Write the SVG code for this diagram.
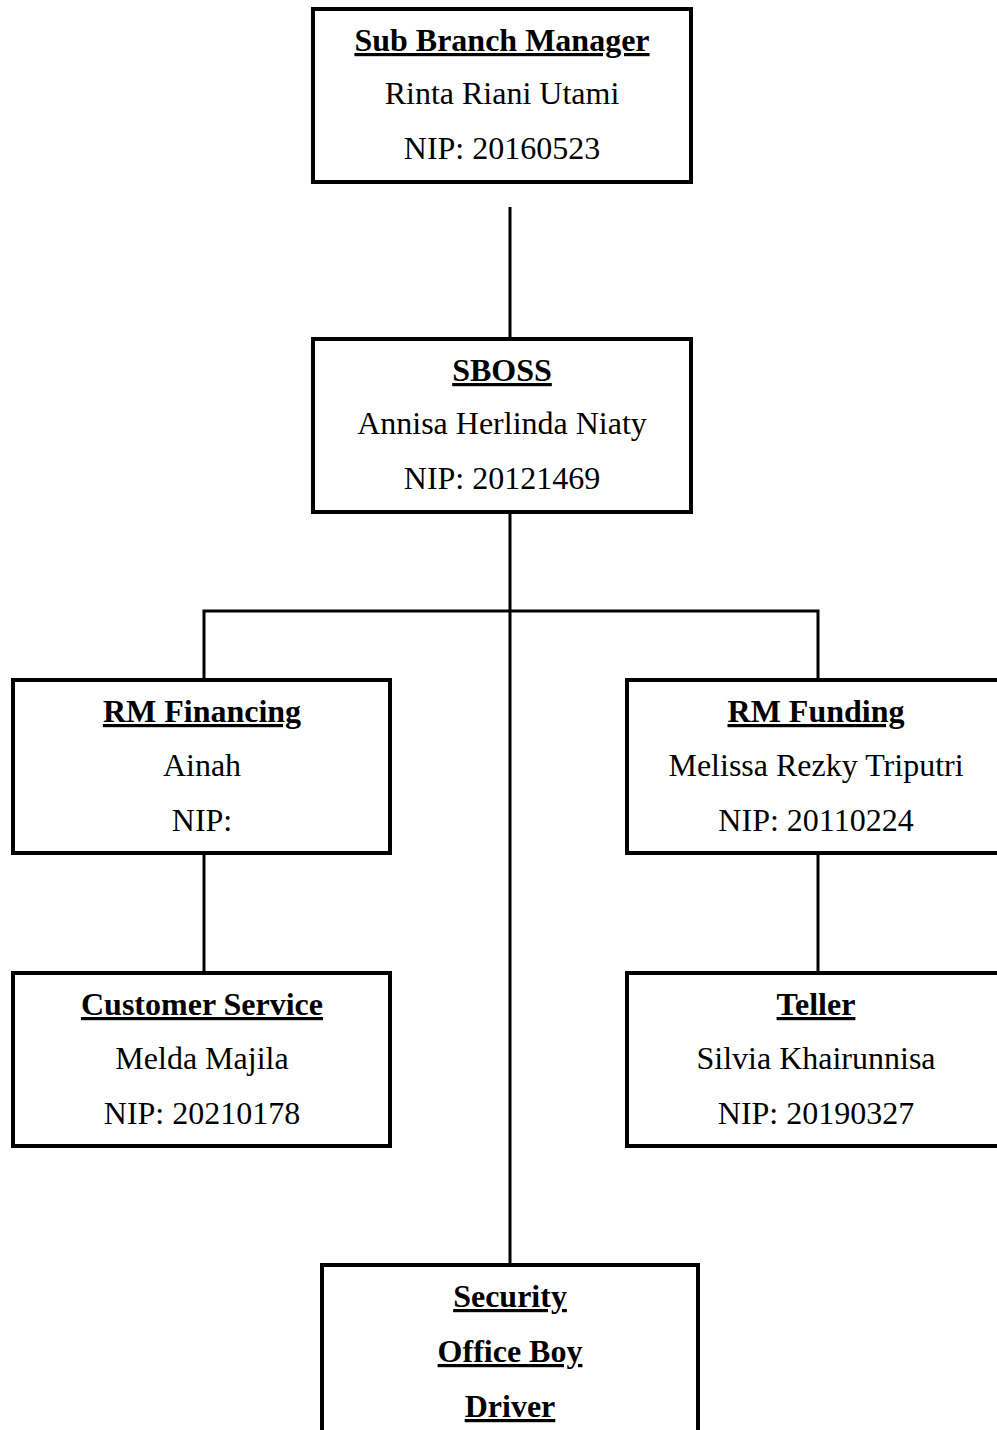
<svg xmlns="http://www.w3.org/2000/svg" width="997" height="1430" viewBox="0 0 997 1430">
  <style>
    .box { fill: #ffffff; stroke: #000000; stroke-width: 4; }
    .conn { fill: none; stroke: #000000; stroke-width: 3; }
    text { font-family: "Liberation Serif", "Times New Roman", serif; font-size: 32px; fill: #000000; text-anchor: middle; }
    .title { font-weight: bold; text-decoration: underline; text-decoration-thickness: 3px; text-underline-offset: 3px; }
  </style>
  <rect width="997" height="1430" fill="#ffffff"/>
  <g id="connectors">
    <line class="conn" x1="510" y1="207" x2="510" y2="339"/>
    <line class="conn" x1="510" y1="512" x2="510" y2="1265"/>
    <polyline class="conn" points="204,680 204,611 818,611 818,680"/>
    <line class="conn" x1="204" y1="853" x2="204" y2="973"/>
    <line class="conn" x1="818" y1="853" x2="818" y2="973"/>
  </g>
  <g id="sub-branch-manager">
    <rect class="box" x="313" y="9" width="378" height="173"/>
    <text class="title" x="502" y="51">Sub Branch Manager</text>
    <text x="502" y="104">Rinta Riani Utami</text>
    <text x="502" y="159">NIP: 20160523</text>
  </g>
  <g id="sboss">
    <rect class="box" x="313" y="339" width="378" height="173"/>
    <text class="title" x="502" y="381">SBOSS</text>
    <text x="502" y="434">Annisa Herlinda Niaty</text>
    <text x="502" y="489">NIP: 20121469</text>
  </g>
  <g id="rm-financing">
    <rect class="box" x="13" y="680" width="377" height="173"/>
    <text class="title" x="202" y="722">RM Financing</text>
    <text x="202" y="776">Ainah</text>
    <text x="202" y="831">NIP:</text>
  </g>
  <g id="rm-funding">
    <rect class="box" x="627" y="680" width="378" height="173"/>
    <text class="title" x="816" y="722">RM Funding</text>
    <text x="816" y="776">Melissa Rezky Triputri</text>
    <text x="816" y="831">NIP: 20110224</text>
  </g>
  <g id="customer-service">
    <rect class="box" x="13" y="973" width="377" height="173"/>
    <text class="title" x="202" y="1015">Customer Service</text>
    <text x="202" y="1069">Melda Majila</text>
    <text x="202" y="1124">NIP: 20210178</text>
  </g>
  <g id="teller">
    <rect class="box" x="627" y="973" width="378" height="173"/>
    <text class="title" x="816" y="1015">Teller</text>
    <text x="816" y="1069">Silvia Khairunnisa</text>
    <text x="816" y="1124">NIP: 20190327</text>
  </g>
  <g id="support-staff">
    <rect class="box" x="322" y="1265" width="376" height="190"/>
    <text class="title" x="510" y="1307">Security</text>
    <text class="title" x="510" y="1362">Office Boy</text>
    <text class="title" x="510" y="1417">Driver</text>
  </g>
</svg>
